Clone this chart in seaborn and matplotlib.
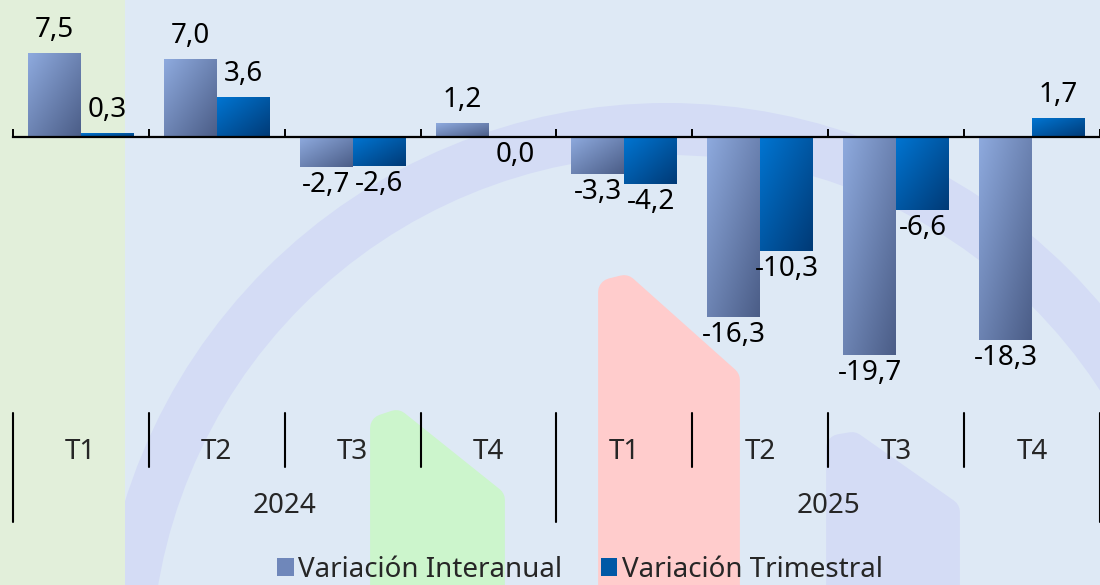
import numpy as np
import pandas as pd
import matplotlib
matplotlib.use('Agg')
import matplotlib.pyplot as plt
import matplotlib.colors as mcolors
from matplotlib.patches import Wedge, Polygon, Rectangle, Patch
import seaborn as sns

# data
years = ['2024', '2025']
quarters = ['T1', 'T2', 'T3', 'T4']
interanual = [7.5, 7.0, -2.7, 1.2, -3.3, -16.3, -19.7, -18.3]
trimestral = [0.3, 3.6, -2.6, 0.0, -4.2, -10.3, -6.6, 1.7]
series = ['Variación Interanual', 'Variación Trimestral']

periods = [f'{y} {q}' for y in years for q in quarters]
df = pd.DataFrame({
    'periodo': periods * 2,
    'serie': [series[0]] * len(periods) + [series[1]] * len(periods),
    'valor': interanual + trimestral,
})

sns.set_theme(style='white')
plt.rcParams['font.family'] = ['Noto Sans', 'DejaVu Sans']

bg_col = '#dee9f5'
grad_cols = {series[0]: ('#8eaade', '#4b5d87'), series[1]: ('#0075d2', '#003a76')}
legend_cols = ['#6f87ba', '#0058a6']

fig = plt.figure(figsize=(11, 5.85), dpi=100)
fig.patch.set_facecolor(bg_col)

# watermark background (pixel coordinates)
bg = fig.add_axes([0, 0, 1, 1], zorder=0)
bg.set_xlim(0, 1100)
bg.set_ylim(585, 0)
bg.axis('off')
lav = '#d4dcf5'
bg.add_patch(Wedge((667, 671), 568, 180, 360, width=52, facecolor=lav, edgecolor='none'))
shape_style = dict(linewidth=20, joinstyle='round', closed=True)
bg.add_patch(Polygon([(384, 620), (384, 428), (396, 424), (491, 500), (491, 620)],
                     facecolor='#ccf5cc', edgecolor='#ccf5cc', **shape_style))
bg.add_patch(Polygon([(612, 620), (612, 292), (624, 289), (726, 380), (726, 620)],
                     facecolor='#ffcccc', edgecolor='#ffcccc', **shape_style))
bg.add_patch(Polygon([(840, 620), (840, 448), (852, 446), (946, 512), (946, 620)],
                     facecolor=lav, edgecolor=lav, **shape_style))
bg.add_patch(Rectangle((0, 0), 125, 585, facecolor='#e2efda', edgecolor='none'))

# main chart
ax = fig.add_axes([0, 0, 1, 1], zorder=1)
ax.patch.set_alpha(0)
sns.barplot(data=df, x='periodo', y='valor', hue='serie', order=periods,
            hue_order=series, palette=[grad_cols[s][0] for s in series],
            width=0.78, saturation=1, legend=False, ax=ax)


def gradient(c0, c1, n=64):
    u = np.linspace(0, 1, n)
    t = (u[None, :] + u[:, None]) / 2
    a = np.array(mcolors.to_rgb(c0))
    b = np.array(mcolors.to_rgb(c1))
    return a + (b - a) * t[..., None]


for s, cont, vals in zip(series, ax.containers, [interanual, trimestral]):
    img = gradient(*grad_cols[s])
    for p, v in zip(cont.patches, vals):
        x0, w = p.get_x(), p.get_width()
        y0, h = p.get_y(), p.get_height()
        xc = x0 + w / 2
        if h != 0:
            ax.imshow(img, extent=(x0, x0 + w, min(y0, y0 + h), max(y0, y0 + h)),
                      origin='upper', aspect='auto', interpolation='bilinear', zorder=3)
        p.set_visible(False)
        txt = f'{v:.1f}'.replace('.', ',')
        off = 12 if v > 0 else -18
        ax.annotate(txt, (xc, v), xytext=(0, off), textcoords='offset points',
                    ha='center', va='baseline', fontsize=20, color='black', zorder=4)

n = len(periods)
ax.set_xlim(-0.595, 7.45)
ax.set_ylim(-40.47, 12.38)

for side in ['left', 'right', 'top']:
    ax.spines[side].set_visible(False)
ax.spines['bottom'].set_position(('data', 0))
ax.spines['bottom'].set_bounds(-0.5, n - 0.5)
ax.spines['bottom'].set_color('black')
ax.spines['bottom'].set_linewidth(1.6)
ax.spines['bottom'].set_zorder(5)
ax.set_yticks([])
ax.set_xticks(np.arange(-0.5, n, 1), labels=[''] * (n + 1))
ax.tick_params(axis='x', direction='in', length=6, width=1.4, color='black', bottom=True)
ax.set_xlabel('')
ax.set_ylabel('')

# two-level category axis
tr = ax.get_xaxis_transform()
for i, q in enumerate(quarters * len(years)):
    ax.text(i, 0.2154, q, transform=tr, ha='center', va='baseline', fontsize=20)
for k, y in enumerate(years):
    ax.text(k * 4 + 1.5, 0.123, y, transform=tr, ha='center', va='baseline', fontsize=20)
for b in np.arange(-0.5, n, 1):
    long_sep = (b + 0.5) % 4 == 0
    ax.plot([b, b], [0.294, 0.1077 if long_sep else 0.2017], transform=tr,
            color='black', lw=1.5, clip_on=False)

handles = [Patch(facecolor=c, edgecolor='none') for c in legend_cols]
ax.legend(handles, series, loc='center', bbox_to_anchor=(0.527, 0.026), ncol=2,
          frameon=False, fontsize=20, handlelength=0.6, handleheight=0.6,
          handletextpad=0.15, columnspacing=1.4, borderaxespad=0)

fig.savefig('out.png', dpi=100, facecolor=bg_col)
